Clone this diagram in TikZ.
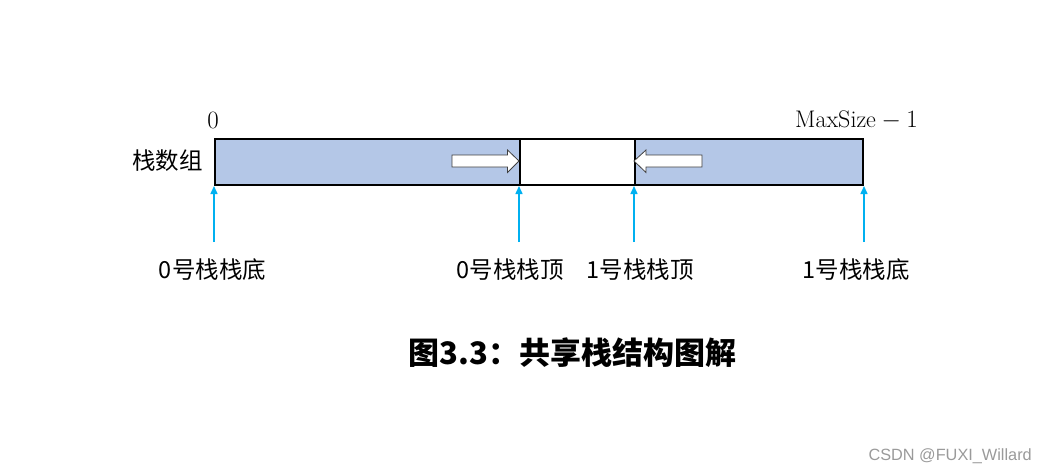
\documentclass[tikz,border=0pt]{standalone}
\usepackage{fontspec}
\usetikzlibrary{arrows.meta}
\newfontfamily\cjk{Noto Sans CJK SC}
\newfontfamily\wmfont{Liberation Sans}
\definecolor{arrblue}{HTML}{B4C7E7}
\definecolor{ptrblue}{HTML}{00B0F0}
\definecolor{wmgray}{HTML}{9A9A9A}
\definecolor{outlinegray}{HTML}{404040}
\begin{document}
\begin{tikzpicture}[x=1pt,y=-1pt,
  cell/.style={draw=black, line width=2pt, minimum height=46pt, inner sep=0pt, anchor=north west},
  ptr/.style={draw=ptrblue, line width=1.5pt, -{Triangle[length=8pt,width=7pt]}},
  lbl/.style={font=\cjk\fontsize{23.5}{26}\selectfont, inner sep=0pt},
  blockarrow/.style={draw=outlinegray, fill=white, line width=0.8pt, line join=miter}]
\useasboundingbox (0,0) rectangle (1047,474);
% cells
\node[cell, fill=arrblue, minimum width=305pt] (c0) at (214,138) {};
\node[cell, fill=white, minimum width=115pt] (c1) at (519,138) {};
\node[cell, fill=arrblue, minimum width=228pt] (c2) at (634,138) {};
% block arrows
\draw[blockarrow] (452,155) -- (507.5,155) -- (507.5,150) -- (519,161) -- (507.5,172.5) -- (507.5,167) -- (452,167) -- cycle;
\draw[blockarrow] (702,155) -- (646,155) -- (646,150) -- (634,161) -- (646,172.5) -- (646,167) -- (702,167) -- cycle;
% index labels
\node[inner sep=0pt, font=\fontsize{23}{26}\selectfont] (i0) at (213,120) {$0$};
\node[inner sep=0pt, anchor=east, font=\fontsize{24}{26}\selectfont] (imax) at (918,120) {$\mathrm{MaxSize}-1$};
\node[lbl, anchor=east] (arr) at (203,161) {栈数组};
% pointer coordinates
\coordinate (b0) at (c0.south west |- 0,242);
\coordinate (t0) at (c1.south west |- 0,242);
\coordinate (t1) at (c2.south west |- 0,242);
\coordinate (b1) at (c2.south east |- 0,242);
\draw[ptr] (b0) -- (b0 |- c0.south);
\draw[ptr] (t0) -- (t0 |- c1.south);
\draw[ptr] (t1) -- (t1 |- c2.south);
\draw[ptr] (b1) -- (b1 |- c2.south);
% pointer labels
\node[lbl] (lb0) at (212.5,270) {0号栈栈底};
\node[lbl] (lt0) at (510,270) {0号栈栈顶};
\node[lbl] (lt1) at (640,270) {1号栈栈顶};
\node[lbl] (lb1) at (856,270) {1号栈栈底};
% title
\node[inner sep=0pt, font=\cjk\bfseries\fontsize{31}{34}\selectfont] (title) at (572.5,353) {图3.3：共享栈结构图解};
% watermark
\node[inner sep=0pt, anchor=east, text=wmgray, font=\wmfont\fontsize{16.3}{18}\selectfont] (wm) at (1032,456) {CSDN @FUXI\_Willard};
\end{tikzpicture}
\end{document}
